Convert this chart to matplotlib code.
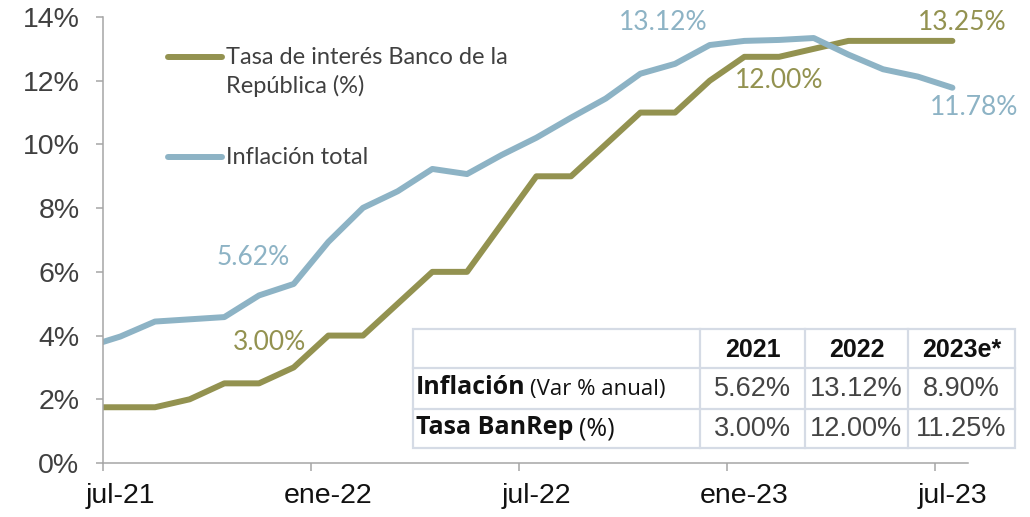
import numpy as np
import matplotlib.pyplot as plt
from matplotlib.lines import Line2D
from matplotlib.patches import Rectangle

# datos mensuales (jun-21 .. jul-23)
meses = ['jun-21', 'jul-21', 'ago-21', 'sep-21', 'oct-21', 'nov-21', 'dic-21',
         'ene-22', 'feb-22', 'mar-22', 'abr-22', 'may-22', 'jun-22', 'jul-22',
         'ago-22', 'sep-22', 'oct-22', 'nov-22', 'dic-22', 'ene-23', 'feb-23',
         'mar-23', 'abr-23', 'may-23', 'jun-23', 'jul-23']
tasa = [1.75, 1.75, 1.75, 2.00, 2.50, 2.50, 3.00, 4.00, 4.00, 5.00, 6.00, 6.00,
        7.50, 9.00, 9.00, 10.00, 11.00, 11.00, 12.00, 12.75, 12.75, 13.00, 13.25,
        13.25, 13.25, 13.25]
inflacion = [3.63, 3.97, 4.44, 4.51, 4.58, 5.26, 5.62, 6.94, 8.01, 8.53, 9.23,
             9.07, 9.67, 10.21, 10.84, 11.44, 12.22, 12.53, 13.12, 13.25, 13.28,
             13.34, 12.82, 12.36, 12.13, 11.78]

tick_labels = ['jul-21', 'ene-22', 'jul-22', 'ene-23', 'jul-23']

# tabla
anios = ['2021', '2022', '2023e*']
tabla_inflacion = ['5.62%', '13.12%', '8.90%']
tabla_tasa = ['3.00%', '12.00%', '11.25%']

OLIVA = '#939250'
AZUL = '#8db3c5'
GRIS = '#404040'
W, H = 1030, 517


def fx(px):
    return px / W


def fy(py):
    return 1 - py / H


fig = plt.figure(figsize=(W / 100, H / 100), dpi=100)
ax = fig.add_axes([fx(103), fy(463), (968 - 103) / W, (463 - 17) / H])

x = np.arange(len(meses)) - 0.5  # punto a mitad de mes, jul-21 = 0

ax.plot(x, tasa, color=OLIVA, lw=4.3, solid_joinstyle='round', solid_capstyle='round')
ax.plot(x, inflacion, color=AZUL, lw=4.3, solid_joinstyle='round', solid_capstyle='round')

ax.set_xlim(0, 24.95)
ax.set_ylim(0, 14)
ax.set_yticks(np.arange(0, 15, 2))
ax.set_yticklabels([f'{v}%' for v in range(0, 15, 2)])
# marcas al inicio del mes, etiquetas a mitad de mes
ax.set_xticks([0, 6, 12, 18, 24])
ax.set_xticklabels([])
ax.set_xticks([0.5, 6.5, 12.5, 18.5, 24.5], minor=True)
ax.set_xticklabels(tick_labels, minor=True)

for s in ['top', 'right']:
    ax.spines[s].set_visible(False)
for s in ['left', 'bottom']:
    ax.spines[s].set_color('#a6a6a6')
    ax.spines[s].set_linewidth(1.1)
ax.tick_params(axis='y', length=5, width=1.1, color='#a6a6a6', pad=12,
               labelsize=20.5, labelcolor=GRIS)
ax.tick_params(axis='x', which='major', length=6, width=1.1, color='#a6a6a6')
ax.tick_params(axis='x', which='minor', length=0, pad=14.5,
               labelsize=20.5, labelcolor='#111111')
for lab in ax.get_xticklabels(minor=True) + ax.get_yticklabels():
    lab.set_family('Liberation Sans')

# etiquetas de datos
k = 0.72  # px -> pt
etq = dict(fontsize=19, family='Lato', ha='center', va='center',
           textcoords='offset points')
i_dic21 = meses.index('dic-21')
i_dic22 = meses.index('dic-22')
ax.annotate('5.62%', (x[i_dic21], inflacion[i_dic21]), xytext=(-40 * k, 26 * k), color=AZUL, **etq)
ax.annotate('3.00%', (x[i_dic21], tasa[i_dic21]), xytext=(-24 * k, 25 * k), color=OLIVA, **etq)
ax.annotate('13.12%', (x[i_dic22], inflacion[i_dic22]), xytext=(-47 * k, 23 * k), color=AZUL, **etq)
ax.annotate('12.00%', (x[i_dic22], tasa[i_dic22]), xytext=(69 * k, 0), color=OLIVA, **etq)
ax.annotate('13.25%', (x[-1], tasa[-1]), xytext=(10 * k, 18 * k), color=OLIVA, **etq)
ax.annotate('11.78%', (x[-1], inflacion[-1]), xytext=(22 * k, -20 * k), color=AZUL, **etq)

# leyenda manual
for yy, col in [(57, OLIVA), (157, AZUL)]:
    fig.add_artist(Line2D([fx(168), fx(222)], [fy(yy), fy(yy)], color=col, lw=4.3,
                          solid_capstyle='round', transform=fig.transFigure))
fig.text(fx(226), fy(57), 'Tasa de interés Banco de la', family='Lato', fontsize=17,
         color=GRIS, va='center')
fig.text(fx(226), fy(86), 'República (%)', family='Lato', fontsize=17,
         color=GRIS, va='center')
fig.text(fx(226), fy(157), 'Inflación total', family='Lato', fontsize=17,
         color=GRIS, va='center')

# tabla
borde = '#d5dbe5'
x0, x1, y0, y1 = 413, 1015, 329, 448
fig.add_artist(Rectangle((fx(x0), fy(y1)), (x1 - x0) / W, (y1 - y0) / H,
                         transform=fig.transFigure, facecolor='white',
                         edgecolor=borde, lw=1.6, zorder=5))
for yy in [368, 409]:
    fig.add_artist(Line2D([fx(x0), fx(x1)], [fy(yy), fy(yy)], color=borde, lw=1.6,
                          transform=fig.transFigure, zorder=6))
cols = [413, 700, 805, 908, 1015]
for xx in cols[1:-1]:
    fig.add_artist(Line2D([fx(xx), fx(xx)], [fy(y0), fy(y1)], color=borde, lw=1.6,
                          transform=fig.transFigure, zorder=6))

for j in range(3):
    cx = fx((cols[j + 1] + cols[j + 2]) / 2)
    fig.text(cx, fy(350), anios[j], family='Liberation Sans', fontweight='bold',
             fontsize=18, color='#111111', ha='center', va='center', zorder=7)
    fig.text(cx, fy(389), tabla_inflacion[j], family='Liberation Sans', fontsize=19.5,
             color='#444444', ha='center', va='center', zorder=7)
    fig.text(cx, fy(429), tabla_tasa[j], family='Liberation Sans', fontsize=19.5,
             color='#444444', ha='center', va='center', zorder=7)

fig.text(fx(416), fy(388), 'Inflación', family='Open Sans', fontweight='bold', fontsize=18,
         color='#111111', va='center', zorder=7)
fig.text(fx(530), fy(389), '(Var % anual)', family='Open Sans', fontsize=16,
         color='#111111', va='center', zorder=7)
fig.text(fx(416), fy(428), 'Tasa BanRep', family='Open Sans', fontweight='bold', fontsize=18,
         color='#111111', va='center', zorder=7)
fig.text(fx(579), fy(429), '(%)', family='Open Sans', fontsize=18,
         color='#111111', va='center', zorder=7)

fig.savefig('out.png', dpi=100)
